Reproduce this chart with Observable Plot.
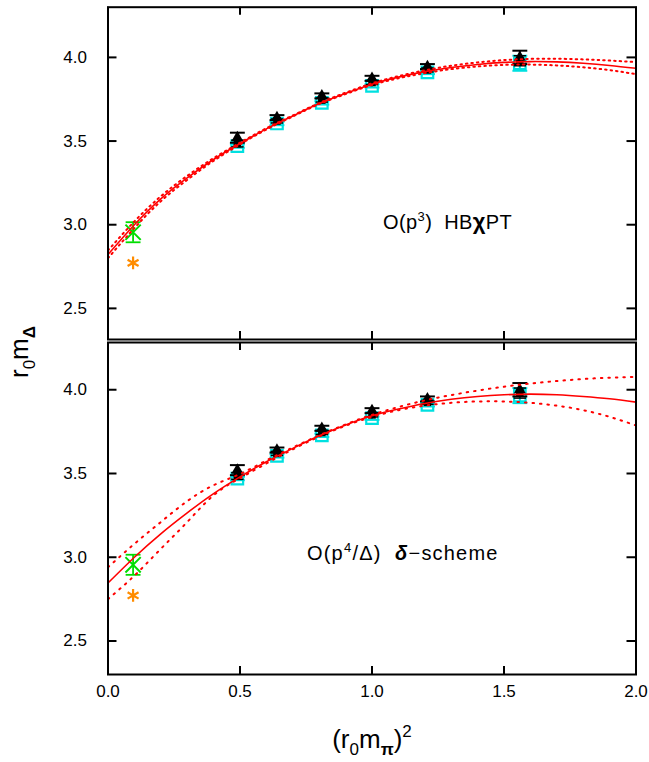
<!DOCTYPE html>
<html><head><meta charset="utf-8">
<script src="https://cdn.jsdelivr.net/npm/d3@7"></script>
<script src="https://cdn.jsdelivr.net/npm/@observablehq/plot@0.6"></script>
<style>
body{margin:0;background:#fff;}
#chart{position:relative;width:649px;height:762px;font-family:"Liberation Sans",Arial,sans-serif;}
#chart svg{position:absolute;left:0;overflow:visible;}
</style></head><body><div id="chart"></div>
<script>
// ---- data ----
const xTicks = [0, 0.5, 1.0, 1.5, 2.0];
const yTicks = [2.5, 3.0, 3.5, 4.0];
const mpi2 = [0.49, 0.64, 0.81, 1.00, 1.21, 1.56];
const triY = [3.52, 3.64, 3.77, 3.875, 3.945, 4.00];
const triErr = [0.03, 0.015, 0.015, 0.015, 0.015, 0.04];
const sqY = [3.485, 3.62, 3.745, 3.85, 3.925, 3.98];
const sqErr = [0.02, 0.012, 0.012, 0.012, 0.012, 0.03];
const cyY = [3.47, 3.605, 3.728, 3.83, 3.91, 3.965];
const cyErr = [0.01, 0.01, 0.01, 0.01, 0.01, 0.045];
const physX = [0.095];
const greenY = [2.955];
const greenErr = [0.06];
const orangeY = [2.772];

const curveX = [0, 0.1, 0.2, 0.3, 0.4, 0.5, 0.6, 0.7, 0.8, 0.9, 1.0, 1.1, 1.2, 1.3, 1.4, 1.5, 1.6, 1.7, 1.8, 1.9, 2.0];
// top panel: O(p^3) HBchiPT
const fitTop   = [2.822, 3.0, 3.155, 3.28, 3.39, 3.485, 3.573, 3.65, 3.724, 3.785, 3.84, 3.882, 3.915, 3.94, 3.958, 3.97, 3.975, 3.973, 3.965, 3.952, 3.935];
const upTop    = [2.846, 3.02, 3.17, 3.292, 3.398, 3.49, 3.577, 3.653, 3.727, 3.789, 3.845, 3.888, 3.923, 3.95, 3.97, 3.984, 3.991, 3.992, 3.988, 3.981, 3.972];
const loTop    = [2.80, 2.98, 3.14, 3.268, 3.382, 3.48, 3.569, 3.647, 3.721, 3.781, 3.835, 3.875, 3.906, 3.93, 3.946, 3.955, 3.957, 3.952, 3.941, 3.924, 3.90];
// bottom panel: O(p^4/Delta) delta-scheme
const fitBot   = [2.846, 3.0, 3.14, 3.265, 3.38, 3.48, 3.57, 3.65, 3.725, 3.79, 3.845, 3.885, 3.918, 3.943, 3.96, 3.97, 3.974, 3.97, 3.96, 3.946, 3.926];
const upBot    = [2.94, 3.08, 3.21, 3.335, 3.43, 3.497, 3.578, 3.655, 3.728, 3.793, 3.85, 3.897, 3.936, 3.968, 3.995, 4.018, 4.037, 4.052, 4.064, 4.072, 4.077];
const loBot    = [2.75, 2.89, 3.05, 3.21, 3.37, 3.472, 3.56, 3.644, 3.72, 3.785, 3.838, 3.878, 3.905, 3.922, 3.93, 3.93, 3.922, 3.905, 3.878, 3.838, 3.787];

// ---- tables ----
const tri = mpi2.map((x, i) => ({x, y: triY[i], e: triErr[i]}));
const sq = mpi2.map((x, i) => ({x, y: sqY[i], e: sqErr[i]}));
const cy = mpi2.map((x, i) => ({x, y: cyY[i], e: cyErr[i]}));
const green = physX.map((x, i) => ({x, y: greenY[i], e: greenErr[i]}));
const orange = physX.map((x, i) => ({x, y: orangeY[i]}));
const mk = arr => curveX.map((x, i) => ({x, y: arr[i]}));

const capSym = {draw(ctx, size) { const r = Math.sqrt(size); ctx.moveTo(-r * 0.7, 0); ctx.lineTo(r * 0.7, 0); }};
const FONT = '"Liberation Sans", Arial, sans-serif';
const W = 649, ML = 107.5, MR = 13.5;
const xDom = [0, 2];

function errMarks(data, color, w, capR) {
  return [
    Plot.ruleX(data, {x: "x", y1: d => d.y - d.e, y2: d => d.y + d.e, stroke: color, strokeWidth: w}),
    Plot.dot(data, {x: "x", y: d => d.y + d.e, symbol: capSym, r: capR, stroke: color, strokeWidth: w}),
    Plot.dot(data, {x: "x", y: d => d.y - d.e, symbol: capSym, r: capR, stroke: color, strokeWidth: w})
  ];
}

// inward ticks drawn as short rules; tick length (px) converted to data units of each scale
function tickMarks(yDom, plotH) {
  const dx = 9 * (xDom[1] - xDom[0]) / (W - ML - MR);
  const dy = 8 * (yDom[1] - yDom[0]) / plotH;
  const st = {stroke: "black", strokeWidth: 2};
  return [
    Plot.ruleY(yTicks, {y: d => d, x1: () => xDom[0], x2: () => xDom[0] + dx, ...st}),
    Plot.ruleY(yTicks, {y: d => d, x1: () => xDom[1] - dx, x2: () => xDom[1], ...st}),
    Plot.ruleX(xTicks, {x: d => d, y1: () => yDom[1], y2: () => yDom[1] - dy, ...st}),
    Plot.ruleX(xTicks, {x: d => d, y1: () => yDom[0], y2: () => yDom[0] + dy, ...st})
  ];
}

function panel({yDomain, height, marginTop, marginBottom, fit, up, lo, dash, showX}) {
  const marks = [
    ...errMarks(cy, "#00e0e0", 2, 6),
    Plot.dot(cy, {x: "x", y: "y", symbol: "square", r: 6.5, stroke: "#00e0e0", strokeWidth: 2.2, fill: "none"}),
    ...errMarks(tri, "black", 2, 6),
    Plot.dot(tri, {x: "x", y: "y", symbol: "triangle", r: 4.4, fill: "black"}),
    ...errMarks(sq, "black", 1.5, 5),
    Plot.dot(sq, {x: "x", y: "y", symbol: "square", r: 4.3, fill: "black"}),
    ...errMarks(green, "#00dd00", 1.8, 6),
    Plot.dot(green, {x: "x", y: "y", symbol: "times", r: 7, stroke: "#00dd00", strokeWidth: 2}),
    Plot.dot(orange, {x: "x", y: "y", symbol: "asterisk", r: 6, stroke: "#ff8c00", strokeWidth: 2.2}),
    Plot.line(mk(fit), {x: "x", y: "y", stroke: "#ff0000", strokeWidth: 1.6, curve: "natural"}),
    Plot.line(mk(up), {x: "x", y: "y", stroke: "#ff0000", strokeWidth: 2, strokeDasharray: dash, curve: "natural"}),
    Plot.line(mk(lo), {x: "x", y: "y", stroke: "#ff0000", strokeWidth: 2, strokeDasharray: dash, curve: "natural"}),
    Plot.frame({stroke: "black", strokeWidth: 2}),
    ...tickMarks(yDomain, height - marginTop - marginBottom),
    Plot.axisY(yTicks, {anchor: "left", tickSize: 0, tickPadding: 21, tickFormat: d => d.toFixed(1), fontSize: 17, label: null})
  ];
  if (showX) marks.push(Plot.axisX(xTicks, {anchor: "bottom", tickSize: 0, tickPadding: 10, tickFormat: d => d.toFixed(1), fontSize: 17, label: null}));
  return Plot.plot({
    width: W, height, marginLeft: ML, marginRight: MR, marginTop, marginBottom,
    x: {domain: xDom, label: null, axis: showX ? undefined : null},
    y: {domain: yDomain, label: null},
    style: {fontFamily: FONT, fontSize: "17px", background: "transparent", color: "black"},
    marks
  });
}

const chart = document.getElementById("chart");

// ---- text overlay ----
const ns = "http://www.w3.org/2000/svg";
const ov = document.createElementNS(ns, "svg");
ov.setAttribute("width", 649); ov.setAttribute("height", 762);
ov.style.top = "0px"; ov.style.pointerEvents = "none";
ov.setAttribute("font-family", FONT);
ov.innerHTML = `
<text x="383" y="229" font-size="20" letter-spacing="0.4" style="white-space:pre">O(p<tspan font-size="13" dy="-8">3</tspan><tspan dy="8">)  HB</tspan><tspan font-weight="bold" font-size="22">χ</tspan>PT</text>
<text x="307" y="560" font-size="20" letter-spacing="1.2" style="white-space:pre">O(p<tspan font-size="13" dy="-8">4</tspan><tspan dy="8">/Δ)  </tspan><tspan font-weight="bold" font-style="italic">δ</tspan>−scheme</text>
<text transform="translate(28,352) rotate(-90)" text-anchor="middle" font-size="26">r<tspan font-size="17" dy="7">0</tspan><tspan dy="-7">m</tspan><tspan font-size="17" font-weight="bold" dy="7">Δ</tspan></text>
<text x="372" y="748" text-anchor="middle" font-size="26">(r<tspan font-size="17" dy="7">0</tspan><tspan dy="-7">m</tspan><tspan font-size="17" font-weight="bold" dy="7">π</tspan><tspan dy="-7">)</tspan><tspan font-size="17" dy="-11">2</tspan></text>
`;
chart.appendChild(ov);

const top1 = panel({yDomain: [2.314, 4.30], height: 345, marginTop: 6.7, marginBottom: 6, fit: fitTop, up: upTop, lo: loTop, dash: "1.5,4", showX: false});
top1.style.top = "0px";
const bot = panel({yDomain: [2.30, 4.282], height: 375, marginTop: 7, marginBottom: 36, fit: fitBot, up: upBot, lo: loBot, dash: "1.5,6", showX: true});
bot.style.top = "335px";
chart.appendChild(top1);
chart.appendChild(bot);
</script></body></html>
